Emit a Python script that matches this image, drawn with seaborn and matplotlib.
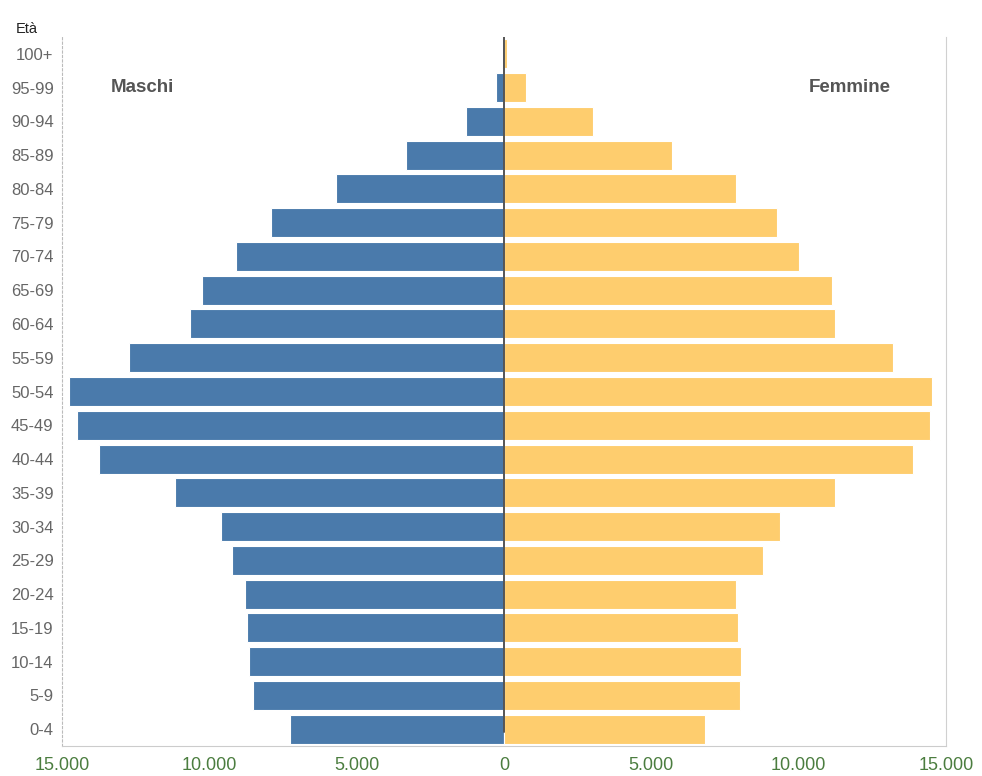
import matplotlib
matplotlib.use("Agg")
import matplotlib.pyplot as plt
import seaborn as sns
import pandas as pd
from matplotlib.ticker import FuncFormatter

ages = ["100+", "95-99", "90-94", "85-89", "80-84", "75-79", "70-74", "65-69",
        "60-64", "55-59", "50-54", "45-49", "40-44", "35-39", "30-34", "25-29",
        "20-24", "15-19", "10-14", "5-9", "0-4"]
maschi = [60, 270, 1290, 3330, 5700, 7910, 9100, 10250, 10660, 12730, 14770,
          14500, 13750, 11170, 9610, 9240, 8800, 8730, 8660, 8520, 7270]
femmine = [100, 750, 3020, 5700, 7880, 9270, 10020, 11140, 11240, 13210, 14530,
           14470, 13890, 11240, 9370, 8800, 7880, 7950, 8050, 8010, 6830]
xticks = [-15000, -10000, -5000, 0, 5000, 10000, 15000]

sns.set_style("white")
plt.rcParams['font.family'] = ['Liberation Sans', 'DejaVu Sans']

df = pd.concat([
    pd.DataFrame({"eta": ages, "valore": [-v for v in maschi], "sesso": "Maschi"}),
    pd.DataFrame({"eta": ages, "valore": femmine, "sesso": "Femmine"}),
])

fig = plt.figure(figsize=(9.82, 7.76), dpi=100)
ax = fig.add_axes([62/982, 1-746/776, (946-62)/982, (746-37)/776])

sns.barplot(data=df, x="valore", y="eta", hue="sesso", order=ages, dodge=False,
            palette={"Maschi": "#4a7aab", "Femmine": "#fecd6e"}, saturation=1,
            width=0.86, edgecolor="white", linewidth=0.8, legend=False, ax=ax, orient="h")

ax.set_xlim(-15000, 15000)
ax.set_ylim(len(ages)-0.5, -0.5)
ax.set_xticks(xticks)
ax.xaxis.set_major_formatter(FuncFormatter(lambda v, p: f"{abs(int(v)):,}".replace(",", ".")))
ax.tick_params(axis="x", colors="#cccccc", labelcolor="#4b7d3f", labelsize=13,
               length=5, width=1, direction="out", pad=3)
ax.tick_params(axis="y", length=0, labelcolor="#666666", labelsize=12, pad=6)
ax.set_xlabel("")
ax.set_ylabel("")

ax.spines["top"].set_visible(False)
ax.spines["right"].set_color("#d0d0d0")
ax.spines["bottom"].set_color("#cccccc")
ax.spines["left"].set_color("#bbbbbb")
ax.spines["left"].set_linestyle((0, (2, 2)))

ax.axvline(0, ymin=0.02, ymax=1, color="#555555", lw=1.4, zorder=5)

fig.text(27/982, 1-29/776, "Età", ha="center", va="center", fontsize=10.5, color="#222222")
ax.text(-12270, 1, "Maschi", ha="center", va="center", fontsize=13.5,
        fontweight="bold", color="#555555")
ax.text(11720, 1, "Femmine", ha="center", va="center", fontsize=13.5,
        fontweight="bold", color="#555555")

fig.savefig("out.png", dpi=100)
